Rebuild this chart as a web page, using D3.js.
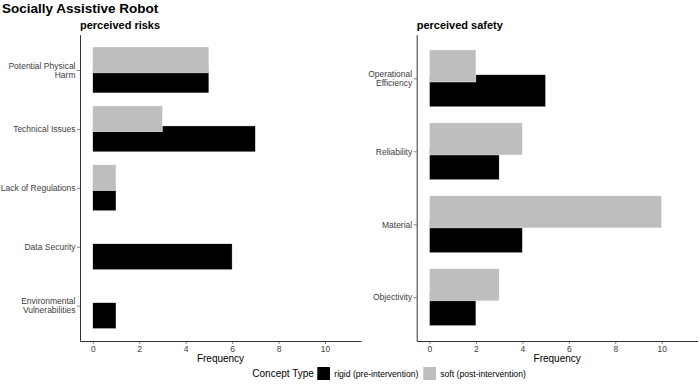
<!DOCTYPE html>
<html>
<head>
<meta charset="utf-8">
<script src="https://cdn.jsdelivr.net/npm/d3@7"></script>
<style>
  body { margin: 0; background: #fff; }
  svg { font-family: "Liberation Sans", Arial, sans-serif; display: block; }
</style>
</head>
<body>
<div id="chart"></div>
<script>
// data
const riskCats = ["Potential Physical Harm", "Technical Issues", "Lack of Regulations", "Data Security", "Environmental Vulnerabilities"];
const riskRigid = [5, 7, 1, 6, 1];
const riskSoft = [5, 3, 1, 0, 0];

const safetyCats = ["Operational Efficiency", "Reliability", "Material", "Objectivity"];
const safetyRigid = [5, 3, 4, 2];
const safetySoft = [2, 4, 10, 3];

const xTicks = [0, 2, 4, 6, 8, 10];
const legendLabels = ["rigid (pre-intervention)", "soft (post-intervention)"];

// y labels that wrap onto two lines
const wrapped = {
  "Potential Physical Harm": ["Potential Physical", "Harm"],
  "Environmental Vulnerabilities": ["Environmental", "Vulnerabilities"],
  "Operational Efficiency": ["Operational", "Efficiency"]
};

const width = 700, height = 389;
const colorRigid = "#000000", colorSoft = "#bebebe";
const axisCol = "#333333", textCol = "#404040";

const svg = d3.select("#chart").append("svg")
  .attr("width", width)
  .attr("height", height);

svg.append("text")
  .attr("x", 2).attr("y", 13)
  .style("font-size", "13.5px").style("font-weight", "bold")
  .attr("fill", "#000")
  .text("Socially Assistive Robot");

const plotTop = 34.6, plotBottom = 341;

function panel(x0, x1, title, cats, rigid, soft) {
  const g = svg.append("g");

  const x = d3.scaleLinear().domain([-0.55, 11.55]).range([x0, x1]);
  const y = d3.scalePoint().domain(cats).range([plotTop, plotBottom]).padding(0.6);
  const step = y.step();
  const barH = 0.44 * step, off = 0.17 * step;

  g.append("text")
    .attr("x", x0).attr("y", 29)
    .style("font-size", "11px").style("font-weight", "bold")
    .attr("fill", "#000")
    .text(title);

  const rows = cats.map((c, i) => ({ cat: c, rigid: rigid[i], soft: soft[i] }));

  // rigid first, soft drawn on top
  g.append("g").selectAll("rect")
    .data(rows.filter(d => d.rigid > 0))
    .join("rect")
    .attr("x", x(0))
    .attr("y", d => y(d.cat) + off - barH / 2)
    .attr("width", d => x(d.rigid) - x(0))
    .attr("height", barH)
    .attr("fill", colorRigid)
    .attr("stroke", "#ffffff").attr("stroke-width", 0.4);

  g.append("g").selectAll("rect")
    .data(rows.filter(d => d.soft > 0))
    .join("rect")
    .attr("x", x(0))
    .attr("y", d => y(d.cat) - off - barH / 2)
    .attr("width", d => x(d.soft) - x(0))
    .attr("height", barH)
    .attr("fill", colorSoft)
    .attr("stroke", "#ffffff").attr("stroke-width", 0.4);

  // x axis
  const xAxis = g.append("g")
    .attr("transform", `translate(0,${plotBottom})`)
    .call(d3.axisBottom(x).tickValues(xTicks).tickSize(3).tickPadding(1.5).tickSizeOuter(0));
  xAxis.select(".domain").attr("stroke", axisCol).attr("stroke-width", 1);
  xAxis.selectAll(".tick line").attr("stroke", axisCol).attr("stroke-width", 0.6);
  xAxis.selectAll(".tick text").attr("fill", textCol)
    .style("font-size", "8.5px").style("font-family", "Liberation Sans, Arial, sans-serif");

  g.append("text")
    .attr("x", (x0 + x1) / 2).attr("y", 362)
    .attr("text-anchor", "middle")
    .style("font-size", "10px")
    .attr("fill", "#000")
    .text("Frequency");

  // y axis
  const yAxis = g.append("g")
    .attr("transform", `translate(${x0},0)`)
    .call(d3.axisLeft(y).tickSize(3).tickPadding(2).tickSizeOuter(0).tickFormat(""));
  yAxis.select(".domain").attr("stroke", axisCol).attr("stroke-width", 1);
  yAxis.selectAll(".tick line").attr("stroke", axisCol).attr("stroke-width", 0.6);

  yAxis.selectAll(".tick").each(function(d) {
    const lines = wrapped[d] || [d];
    const t = d3.select(this).append("text")
      .attr("x", -4.5)
      .attr("text-anchor", "end")
      .attr("fill", textCol)
      .style("font-size", "8.5px");
    lines.forEach((ln, i) => {
      t.append("tspan")
        .attr("x", -4.5)
        .attr("y", (i - (lines.length - 1) / 2) * 9.2)
        .attr("dy", "0.32em")
        .text(ln);
    });
  });
}

panel(80, 361, "perceived risks", riskCats, riskRigid, riskSoft);
panel(416.7, 697.7, "perceived safety", safetyCats, safetyRigid, safetySoft);

// legend
const lg = svg.append("g");
lg.append("text")
  .attr("x", 252.3).attr("y", 373.5).attr("dy", "0.35em")
  .style("font-size", "10px").attr("fill", "#000")
  .text("Concept Type");

const keyX = [317.3, 423.3];
const keyCols = [colorRigid, colorSoft];
legendLabels.forEach((lab, i) => {
  lg.append("rect")
    .attr("x", keyX[i]).attr("y", 367)
    .attr("width", 12.7).attr("height", 13)
    .attr("fill", keyCols[i]);
  lg.append("text")
    .attr("x", keyX[i] + 17).attr("y", 373.5).attr("dy", "0.35em")
    .style("font-size", "8.6px").attr("fill", "#000")
    .text(lab);
});
</script>
</body>
</html>
